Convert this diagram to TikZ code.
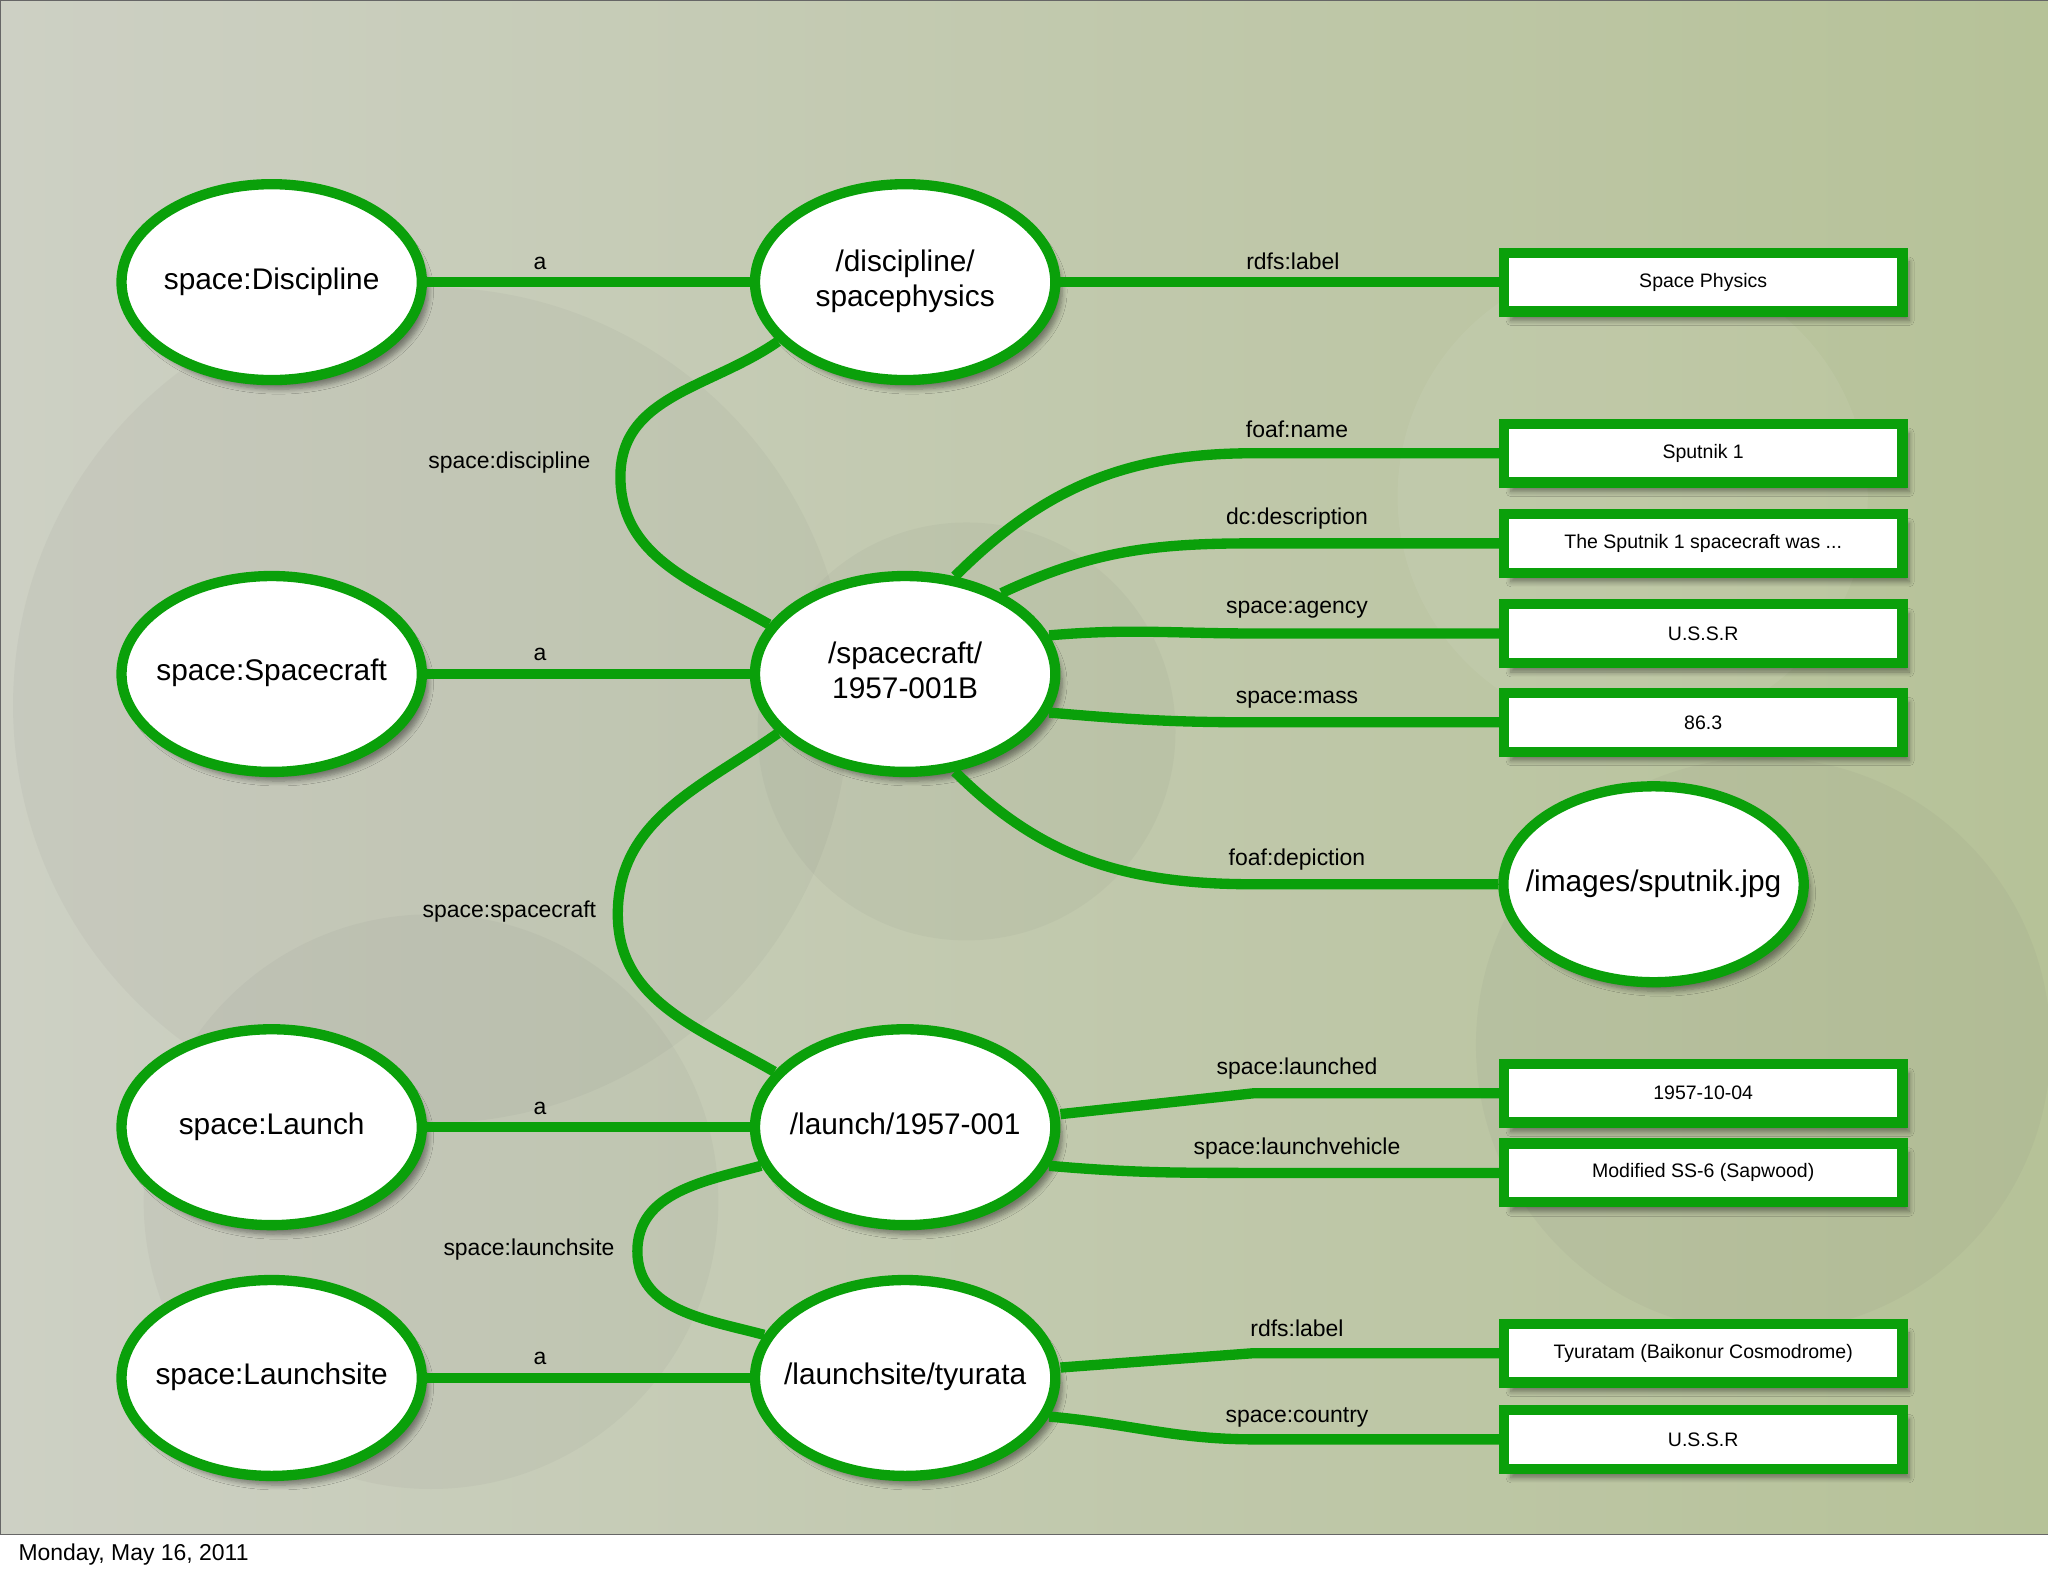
\documentclass[tikz,border=0pt]{standalone}
\usepackage{fontspec}
\setmainfont{Liberation Sans}
\usetikzlibrary{shapes.geometric,shadows.blur}
\definecolor{gr}{RGB}{10,160,10}
\newcommand{\ct}[1]{\makebox[0pt]{\begin{tabular}{@{}c@{}}#1\end{tabular}}}
\begin{document}
\begin{tikzpicture}[x=0.02cm,y=-0.02cm,
  ell/.style={ellipse,draw=gr,line width=4.5pt,fill=white,minimum width=4.6cm,minimum height=3cm,inner sep=0pt,
    blur shadow={shadow xshift=3pt,shadow yshift=-4pt,shadow blur steps=6},font=\fontsize{13}{15}\selectfont},
  rct/.style={rectangle,draw=gr,line width=4.5pt,fill=white,minimum width=6.1cm,minimum height=0.9cm,
    blur shadow={shadow xshift=3pt,shadow yshift=-4pt,shadow blur steps=6},font=\fontsize{8.5}{10}\selectfont},
  ed/.style={draw=gr,line width=4.5pt},
  lb/.style={font=\fontsize{10}{12}\selectfont}]
\useasboundingbox (0,0) rectangle (1568,1207);
\shade[left color={rgb,255:red,205;green,208;blue,196},right color={rgb,255:red,182;green,194;blue,152}] (0,0) rectangle (1568,1175);
\begin{scope}[opacity=0.06]
\fill[black!60] (330,540) circle (320);
\fill[black!60] (740,560) circle (160);
\fill[black!60] (330,920) circle (220);
\fill[black!60] (1350,800) circle (220);
\fill[white] (1250,380) circle (180);
\end{scope}
\draw[black!60] (0,0) rectangle (1568,1175);
\node[anchor=west,font=\fontsize{10}{12}\selectfont] (date) at (8,1190) {Monday, May 16, 2011};
% ellipses
\node[ell] (cd) at (208,216) {\ct{space:Discipline}};
\node[ell] (cs) at (208,516) {\ct{space:Spacecraft}};
\node[ell] (cl) at (208,863) {\ct{space:Launch}};
\node[ell] (cls) at (208,1055) {\ct{space:Launchsite}};
\node[ell] (d) at (693,216) {\ct{/discipline/\\spacephysics}};
\node[ell] (s) at (693,516) {\ct{/spacecraft/\\1957-001B}};
\node[ell] (l) at (693,863) {\ct{/launch/1957-001}};
\node[ell] (ls) at (693,1055) {\ct{/launchsite/tyurata}};
\node[ell] (img) at (1266,677) {\ct{/images/sputnik.jpg}};
% rectangles
\node[rct] (r1) at (1304,216) {Space Physics};
\node[rct] (r2) at (1304,347) {Sputnik 1};
\node[rct] (r3) at (1304,416) {The Sputnik 1 spacecraft was ...};
\node[rct] (r4) at (1304,485) {U.S.S.R};
\node[rct] (r5) at (1304,553) {86.3};
\node[rct] (r6) at (1304,837) {1957-10-04};
\node[rct] (r7) at (1304,898) {Modified SS-6 (Sapwood)};
\node[rct] (r8) at (1304,1036) {Tyuratam (Baikonur Cosmodrome)};
\node[rct] (r9) at (1304,1102) {U.S.S.R};
% coordinates
\coordinate (k1) at (475,365);
\coordinate (k2) at (473,700);
\coordinate (k3) at (488,958);
\coordinate (p2) at (960,347);
\coordinate (p3) at (960,416);
\coordinate (p4) at (960,485);
\coordinate (p5) at (960,553);
\coordinate (p6) at (960,677);
\coordinate (p7) at (960,837);
\coordinate (p8) at (960,898);
\coordinate (p9) at (960,1036);
\coordinate (p10) at (960,1102);
% edges
\draw[ed] (cd.east) -- node[lb,above,pos=0.35]{a} (d.west);
\draw[ed] (cs.east) -- node[lb,above,pos=0.35]{a} (s.west);
\draw[ed] (cl.east) -- node[lb,above,pos=0.35]{a} (l.west);
\draw[ed] (cls.east) -- node[lb,above,pos=0.35]{a} (ls.west);
\draw[ed] (d.east) -- node[lb,above,pos=0.53]{rdfs:label} (r1.west);
\draw[ed] (d.205) to[out=215,in=90] (k1) to[out=-90,in=150] (s.160);
\draw[ed] (s.205) to[out=215,in=90] (k2) to[out=-90,in=150] (l.157);
\draw[ed] (l.195) to[out=195,in=90] (k3) to[out=-90,in=165] (ls.163);
\node[lb] at (390,354) {space:discipline};
\node[lb] at (390,698) {space:spacecraft};
\node[lb] at (405,957) {space:launchsite};
\draw[ed] (s.63) to[out=45,in=180] (p2) -- (r2.west);
\draw[ed] (s.40) to[out=25,in=180] (p3) -- (r3.west);
\draw[ed] (s.15) to[out=5,in=180] (p4) -- (r4.west);
\draw[ed] (s.-15) to[out=-5,in=180] (p5) -- (r5.west);
\draw[ed] (s.-63) to[out=-45,in=180] (p6) -- (img.west);
\draw[ed] (l.east) ++(0,-10) -- (p7) -- (r6.west);
\draw[ed] (l.-15) to[out=-5,in=180] (p8) -- (r7.west);
\draw[ed] (ls.east) ++(0,-8) -- (p9) -- (r8.west);
\draw[ed] (ls.-15) to[out=-5,in=180] (p10) -- (r9.west);
\node[lb] at (993,329) {foaf:name};
\node[lb] at (993,397) {dc:description};
\node[lb] at (993,467) {space:agency};
\node[lb] at (993,536) {space:mass};
\node[lb] at (993,658) {foaf:depiction};
\node[lb] at (993,818) {space:launched};
\node[lb] at (993,879) {space:launchvehicle};
\node[lb] at (993,1017) {rdfs:label};
\node[lb] at (993,1085) {space:country};
\end{tikzpicture}
\end{document}
